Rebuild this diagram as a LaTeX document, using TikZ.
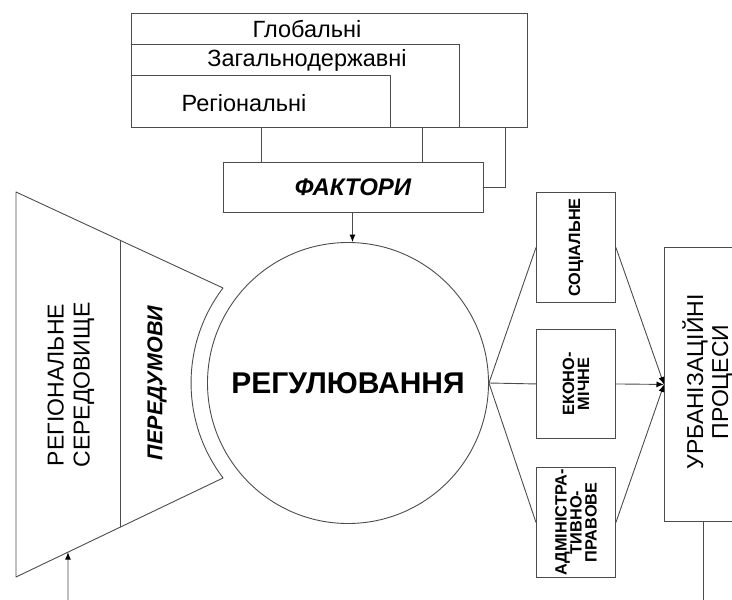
\documentclass[tikz,border=0pt]{standalone}
\usepackage{fontspec}
\setmainfont{Liberation Sans}
\usetikzlibrary{arrows.meta,calc}
\begin{document}
\begin{tikzpicture}[x=1pt,y=-1pt,
  ln/.style={draw=black!70,line width=0.9pt},
  boxn/.style={ln,rectangle,inner sep=0pt,anchor=north west},
  lbl/.style={inner sep=0pt,anchor=base,font=\fontsize{23.5}{26}\selectfont},
  side/.style={inner sep=0pt,rotate=90,align=center,font=\fontsize{16.3}{15}\selectfont\bfseries},
  big/.style={inner sep=0pt,rotate=90,align=center,font=\fontsize{23}{26}\selectfont},
  arr/.style={ln,-{Latex[length=7.5pt,width=6pt,color=black]}}]
\clip (0,0) rectangle (732,600);
% top boxes
\node[boxn,minimum width=396pt,minimum height=114pt] (glob) at (131,13) {};
\node[boxn,minimum width=328pt,minimum height=83pt] (zag) at (131,44) {};
\node[boxn,minimum width=259pt,minimum height=52pt] (reg) at (131,75) {};
\node[lbl] (tglob) at (307,37) {Глобальні};
\node[lbl] (tzag) at (307,66) {Загальнодержавні};
\node[lbl] (treg) at (244,111) {Регіональні};
% factors
\node[boxn,minimum width=260pt,minimum height=50pt] (fakt) at (223,162) {};
\node[inner sep=0pt,font=\fontsize{24}{26}\selectfont\bfseries\itshape] (tfakt) at (353,187) {ФАКТОРИ};
\draw[ln] ([xshift=130pt]reg.south west) -- ([xshift=130pt]reg.south west |- fakt.north);
\draw[ln] ([xshift=291pt]zag.south west) -- ([xshift=291pt]zag.south west |- fakt.north);
\coordinate (gl) at ([xshift=374pt]glob.south west);
\draw[ln] (gl) -- (gl |- fakt.east) -- (fakt.east);
% circle
\node[ln,circle,minimum size=281pt,inner sep=0pt,font=\fontsize{30}{32}\selectfont\bfseries] (circ) at (348,383) {РЕГУЛЮВАННЯ};
\draw[arr] ([xshift=-1pt]fakt.south) -- ([xshift=-1pt]fakt.south |- circ.north);
% trapezoid
\coordinate (TL) at (16,192);
\coordinate (TR) at (223,288);
\coordinate (BR) at (223,478);
\coordinate (BL) at (16,577);
\draw[ln,line join=round] (TL) -- (TR) arc[start angle=142.8,end angle=217.2,radius=157pt] -- (BR) -- (BL) -- cycle;
\draw[ln] ($(TL)!0.5024!(TR)$) -- ($(BL)!0.5024!(BR)$);
\node[big] (tsered) at (71,385) {РЕГІОНАЛЬНЕ\\СЕРЕДОВИЩЕ};
\node[big,font=\fontsize{21.5}{26}\selectfont\bfseries\itshape] (tpered) at (157,383) {ПЕРЕДУМОВИ};
\coordinate (la) at (68,600);
\draw[arr] (la) -- ($(BL)!0.251!(BR)$);
% right boxes
\node[boxn,minimum width=79pt,minimum height=110pt] (soc) at (536,192) {};
\node[boxn,minimum width=79pt,minimum height=109pt] (eko) at (536,329) {};
\node[boxn,minimum width=79pt,minimum height=110pt] (adm) at (536,467) {};
\node[side] (tsoc) at (soc.center) {СОЦІАЛЬНЕ};
\node[side] (teko) at (eko.center) {ЕКОНО-\\МІЧНЕ};
\node[side] (tadm) at (adm.center) {АДМІНІСТРА-\\ТИВНО-\\ПРАВОВЕ};
% urban
\node[boxn,minimum width=100pt,minimum height=274pt] (urb) at (664,247) {};
\node[big,font=\fontsize{23}{25}\selectfont] (turb) at (707.5,382) {УРБАНІЗАЦІЙНІ\\ПРОЦЕСИ};
\coordinate (ub) at (703,600);
\draw[ln] (ub |- urb.south) -- (ub);
% connectors
\draw[ln] (circ.east) -- (soc.west);
\draw[ln] (circ.east) -- (eko.west);
\draw[ln] (circ.east) -- (adm.west);
\draw[arr] (soc.east) -- (urb.west);
\draw[arr] (eko.east) -- (urb.west);
\draw[arr] (adm.east) -- (urb.west);
\end{tikzpicture}
\end{document}
